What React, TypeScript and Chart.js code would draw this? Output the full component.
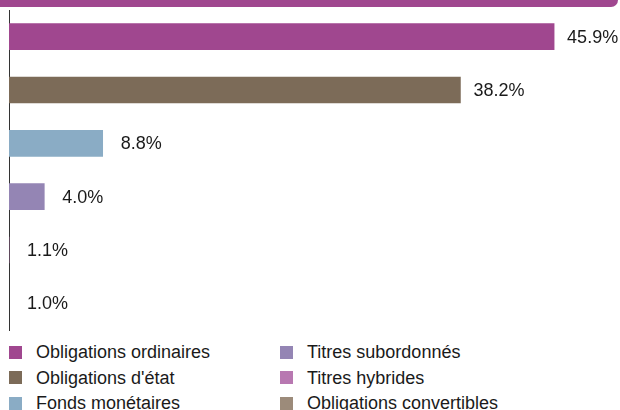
import React, { useEffect, useRef } from "react";
import { Chart, registerables } from "chart.js";

Chart.register(...registerables);

const categories = [
  "Obligations ordinaires",
  "Obligations d'état",
  "Fonds monétaires",
  "Titres subordonnés",
  "Titres hybrides",
  "Obligations convertibles",
];
const values = [45.9, 38.2, 8.8, 4.0, 1.1, 1.0];
const colors = ["#A0478F", "#7C6B58", "#8AACC5", "#9485B4", "#B878B1", "#9C8B7A"];
const valueLabels = ["45.9%", "38.2%", "8.8%", "4.0%", "1.1%", "1.0%"];

const FONT = "'Liberation Sans', Arial, sans-serif";

const labelPlugin = {
  id: "valueLabels",
  afterDatasetsDraw(chart: any) {
    const { ctx, chartArea } = chart;
    const meta = chart.getDatasetMeta(0);
    ctx.save();
    ctx.font = `18px ${FONT}`;
    ctx.fillStyle = "#1a1a1a";
    ctx.textBaseline = "middle";
    ctx.textAlign = "left";
    meta.data.forEach((el: any, i: number) => {
      const end = Math.max(el.x, chartArea.left);
      const gap = values[i] >= 10 ? 13 : 18;
      ctx.fillText(valueLabels[i], end + gap, el.y + 1);
    });
    ctx.restore();
  },
};

export default function App() {
  const ref = useRef<HTMLCanvasElement>(null);
  useEffect(() => {
    if (!ref.current) return;
    const chart = new Chart(ref.current, {
      type: "bar",
      data: {
        labels: categories,
        datasets: [
          {
            data: values,
            backgroundColor: colors,
            borderWidth: 0,
            barThickness: 26,
          },
        ],
      },
      options: {
        indexAxis: "y",
        animation: false,
        responsive: false,
        maintainAspectRatio: false,
        layout: { padding: { left: 9, right: 16, top: 10, bottom: 5 } },
        plugins: { legend: { display: false }, tooltip: { enabled: false } },
        scales: {
          x: { display: false, min: 1.1, max: 50 },
          y: {
            display: true,
            grid: { display: false },
            ticks: { display: false },
            border: { display: true, color: "#333", width: 1 },
            afterFit: (s: any) => {
              s.width = 0;
            },
          },
        },
      },
      plugins: [labelPlugin],
    });
    return () => chart.destroy();
  }, []);

  const legendItems = categories.map((c, i) => ({ label: c, color: colors[i] }));

  return (
    <div style={{ position: "fixed", left: 0, top: 0, width: 620, height: 410, background: "#fff", overflow: "hidden", fontFamily: FONT }}>
      <div style={{ position: "absolute", left: 0, top: 0, width: 618, height: 7, background: "#A0478F", borderBottomRightRadius: 10 }} />
      <canvas ref={ref} width={620} height={335} style={{ position: "absolute", left: 0, top: 0, width: 620, height: 335 }} />
      {legendItems.map((it, i) => {
        const col = Math.floor(i / 3);
        const row = i % 3;
        const left = col === 0 ? 9 : 280;
        const cy = 352 + row * 25.5;
        return (
          <div key={it.label} style={{ position: "absolute", left, top: cy - 11, height: 22, display: "flex", alignItems: "center", whiteSpace: "nowrap" }}>
            <span style={{ display: "inline-block", width: 13, height: 13, background: it.color, marginRight: 14, flexShrink: 0 }} />
            <span style={{ fontSize: 18, color: "#1a1a1a", lineHeight: "22px" }}>{it.label}</span>
          </div>
        );
      })}
    </div>
  );
}
